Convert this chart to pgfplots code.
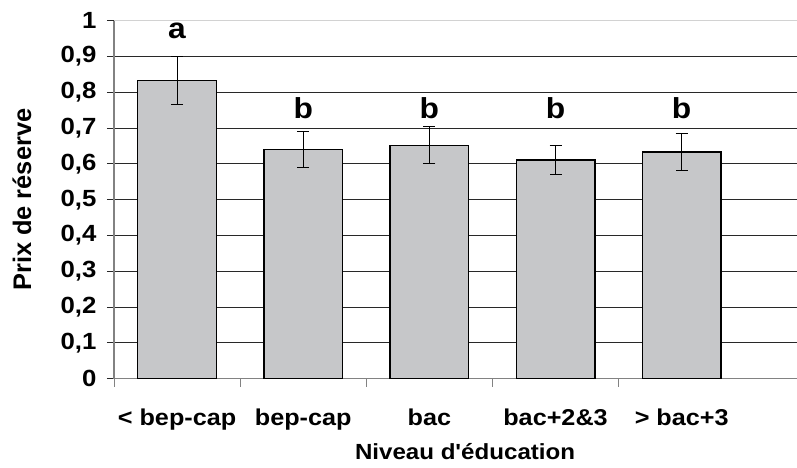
\documentclass[border=0pt]{standalone}
\usepackage{pgfplots}
\pgfplotsset{compat=1.18}
\usepackage{pgfplotstable}
\usepackage{fontspec}
\setmainfont{Liberation Sans}
\newfontfamily\widefont{Liberation Sans}[FakeStretch=1.1]
\definecolor{barfill}{RGB}{198,199,201}
\definecolor{gridc}{RGB}{40,40,40}
\definecolor{axisc}{RGB}{130,130,130}
\pgfplotstableread{
x y err
0 0.833 0.068
1 0.641 0.050
2 0.652 0.052
3 0.611 0.040
4 0.633 0.052
}\datatable
\begin{document}
\begin{tikzpicture}
\path[use as bounding box] (-114bp,-89.3bp) rectangle (683bp,378.7bp);
\begin{axis}[
  scale only axis,
  width=683bp, height=358bp,
  xmin=-0.5, xmax=4.914,
  ymin=0, ymax=1,
  clip=false,
  axis x line*=bottom,
  axis y line*=left,
  axis line style={axisc, line width=1.2pt, -},
  ytick={0,0.1,...,0.91},
  extra y ticks={1},
  extra y tick style={grid style={gray!35, line width=0.9pt}},
  ymajorgrids,
  grid style={gridc, line width=0.9pt},
  xtick={0,1,2,3,4},
  xticklabels={{< bep-cap},{bep-cap},{bac},{bac+2\&3},{> bac+3}},
  minor xtick={-0.5,0.5,1.5,2.5,3.5},
  tick align=outside,
  major tick length=7bp,
  minor tick length=8bp,
  xtick style={draw=none},
  minor x tick style={draw=axisc, line width=1pt},
  ytick style={gridc, line width=0.9pt},
  /pgf/number format/.cd, use comma, fixed, precision=1, assume math mode=true,
  /pgfplots/.cd,
  yticklabel style={font=\widefont\fontsize{23.5}{25}\selectfont\bfseries, xshift=-7bp},
  xticklabel style={font=\widefont\fontsize{23}{25}\selectfont\bfseries, yshift=-20bp},
  xlabel={Niveau d'éducation},
  ylabel={Prix de réserve},
  xlabel style={font=\widefont\fontsize{22}{24}\selectfont\bfseries, at={(axis description cs:0.514,-0.204)}, anchor=center},
  ylabel style={font=\fontsize{25.5}{27}\selectfont\bfseries, at={(axis description cs:-0.1347,0.5)}, anchor=center},
]
\addplot[ybar, bar width=0.624, fill=barfill, draw=black, line width=1.3pt,
  error bars/.cd, y dir=both, y explicit,
  error bar style={black, line width=1.1pt},
  error mark options={black, line width=1.1pt, mark size=6bp, rotate=90}]
  table[x=x, y=y, y error=err] {\datatable};
\node[font=\widefont\fontsize{29}{31}\selectfont\bfseries] at (axis cs:0,0.972) {a};
\node[font=\widefont\fontsize{29}{31}\selectfont\bfseries] at (axis cs:1,0.756) {b};
\node[font=\widefont\fontsize{29}{31}\selectfont\bfseries] at (axis cs:2,0.756) {b};
\node[font=\widefont\fontsize{29}{31}\selectfont\bfseries] at (axis cs:3,0.756) {b};
\node[font=\widefont\fontsize{29}{31}\selectfont\bfseries] at (axis cs:4,0.756) {b};
\end{axis}
\end{tikzpicture}
\end{document}
